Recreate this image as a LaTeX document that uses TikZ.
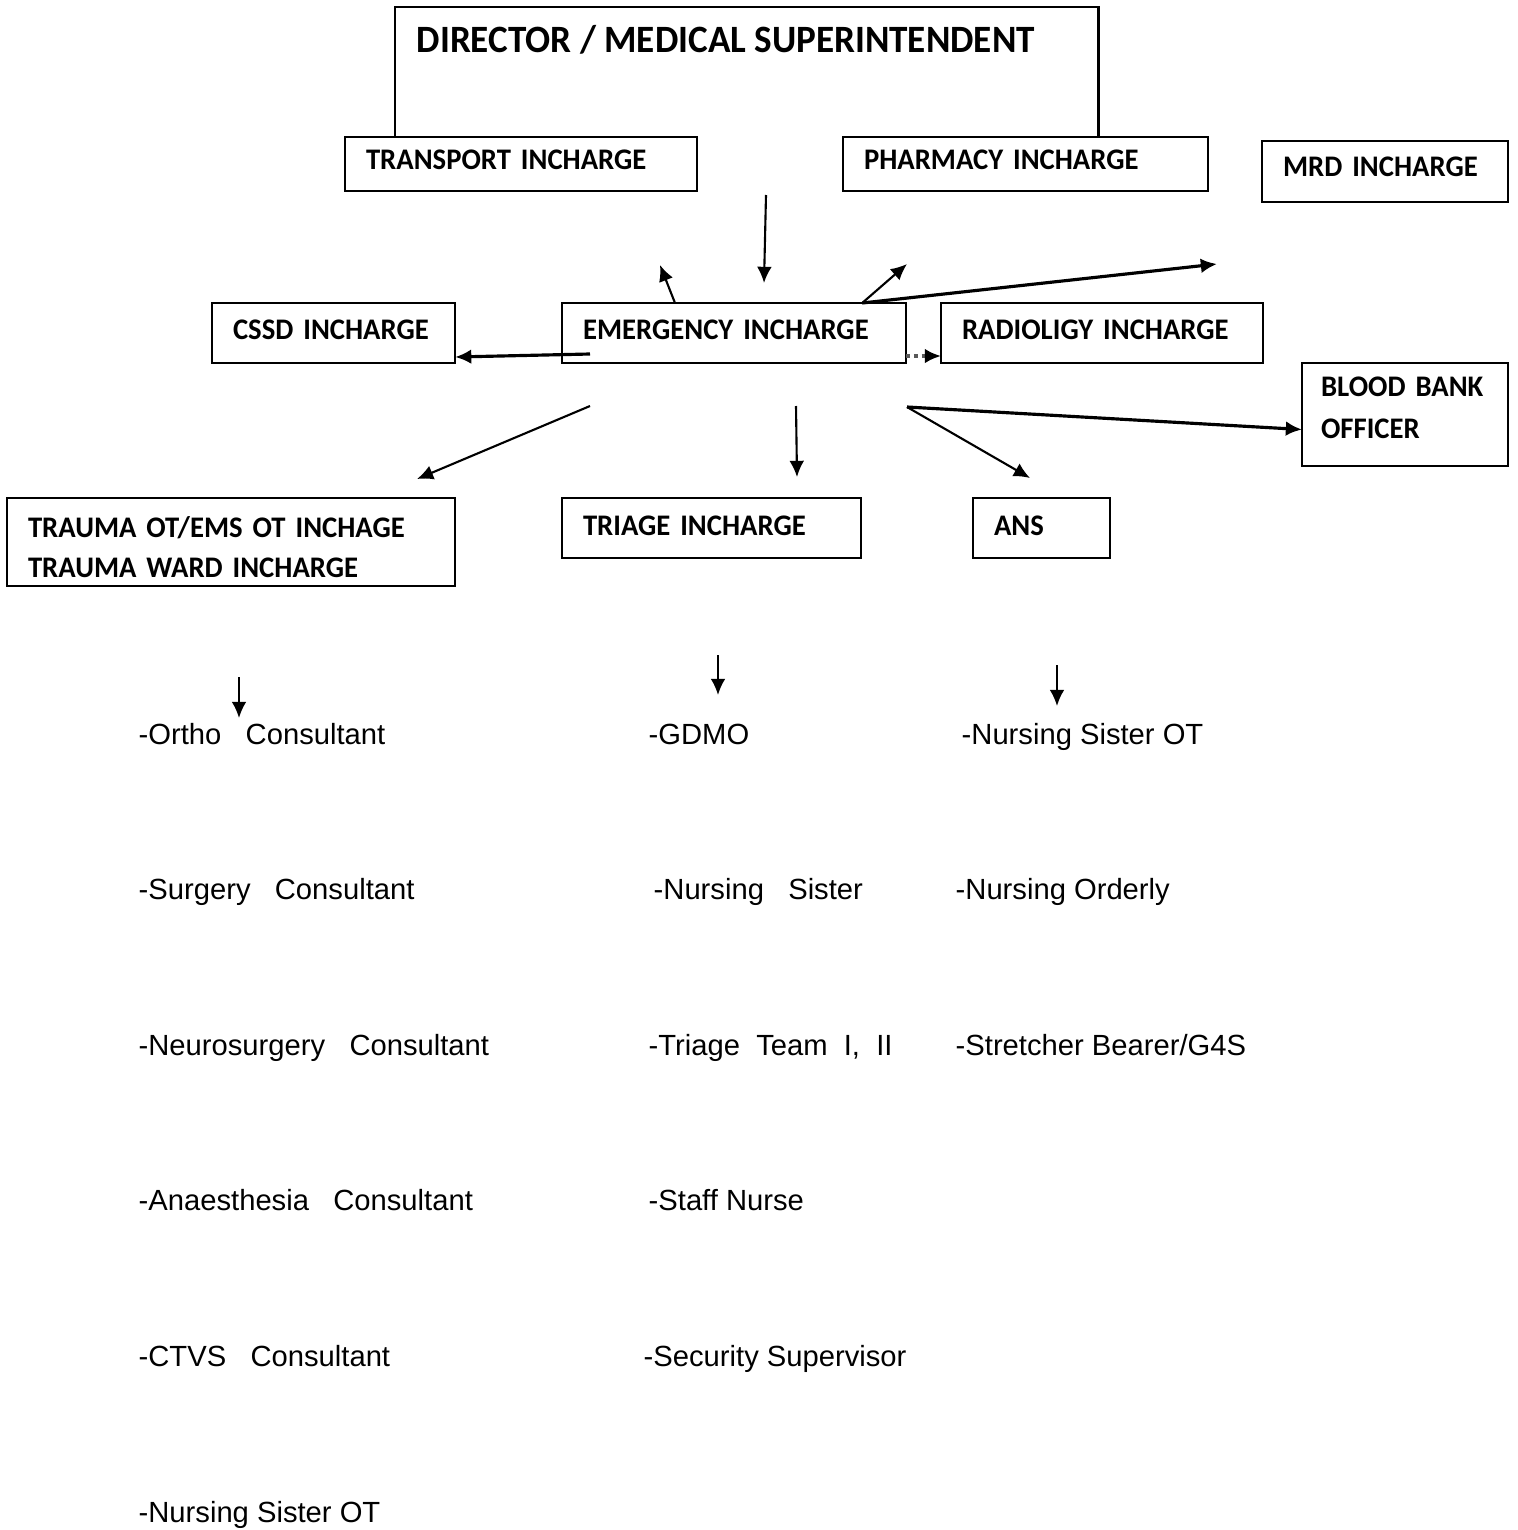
\documentclass[tikz,border=0pt]{standalone}
\usepackage{fontspec}
\setmainfont{Liberation Sans}
\newfontfamily\boxfont[FakeStretch=0.96]{Carlito}
\usetikzlibrary{arrows.meta,calc}

\begin{document}
\begin{tikzpicture}[x=0.01cm, y=-0.01cm, >={Latex[length=4.6pt,width=4.2pt]}]
	\tikzstyle{box} = [draw, rectangle, line width=0.7pt, anchor=north west, inner xsep=2.1mm, inner ysep=0pt, outer sep=0pt, align=left, font={\boxfont\bfseries\fontsize{8.5}{11.6}\selectfont\hyphenpenalty=10000}];
	\tikzstyle{single} = [text height=2mm, text depth=1mm];
	\tikzstyle{staff} = [anchor=base west, inner sep=0pt, font={\fontsize{8.3}{10}\selectfont}];
	\tikzstyle{point} = [->, line width=0.6pt];
	\tikzstyle{heavy} = [->, line width=0.9pt];

	\useasboundingbox (0,0) rectangle (1517,1530);

	% top of the chart
	\node[box, draw=none, minimum width=7.03cm, minimum height=1.30cm] (dir) at (395,7) {};
	\draw[line width=0.7pt] (dir.south west) |- (dir.north east) -- (dir.south east);
	\node[anchor=base west, inner sep=0pt, font={\boxfont\bfseries\fontsize{11}{13}\selectfont}] (dirtext) at (416,52) {DIRECTOR / MEDICAL SUPERINTENDENT};

	\node[box, single, text width=3.10cm, minimum height=0.54cm] (transport) at (345,137) {TRANSPORT INCHARGE};
	\node[box, single, text width=3.23cm, minimum height=0.54cm] (pharmacy) at (843,137) {PHARMACY INCHARGE};
	\node[box, single, text width=2.04cm, minimum height=0.61cm] (mrd) at (1262,141) {MRD INCHARGE};

	\node[box, single, text width=2.01cm, minimum height=0.60cm, text depth=0.7mm] (cssd) at (212,303) {CSSD INCHARGE};
	\node[box, single, text width=3.02cm, minimum height=0.60cm, text depth=0.7mm] (emerg) at (562,303) {EMERGENCY INCHARGE};
	\node[box, single, text width=2.80cm, minimum height=0.60cm, text depth=0.7mm] (radio) at (941,303) {RADIOLIGY INCHARGE};
	\node[box, inner xsep=1.9mm, text width=1.68cm, minimum height=1.03cm, text depth=5.55mm, font={\boxfont\bfseries\fontsize{8.5}{11.8}\selectfont}] (bank) at (1302,363) {BLOOD BANK\\OFFICER};

	\node[box, text width=4.06cm, minimum height=0.88cm, text depth=3.1mm] (trauma) at (7,498) {TRAUMA OT/EMS OT INCHAGE\\TRAUMA WARD INCHARGE};
	\node[box, single, text width=2.57cm, minimum height=0.60cm, text depth=0.6mm] (triage) at (562,498) {TRIAGE INCHARGE};
	\node[box, single, text width=0.95cm, minimum height=0.60cm, text depth=0.6mm] (ans) at (973,498) {ANS};

	% arrows round the emergency box
	\coordinate (dirfoot) at (766,195);
	\coordinate (emtop) at (764,283);
	\draw[point] (dirfoot) -- (emtop);

	\coordinate (upleft) at (660,265);
	\coordinate (upright) at (907,264);
	\coordinate (upfar) at (1217,264);
	\draw[point] ($(emerg.north west)+(113,0)$) -- (upleft);
	\draw[point] ($(emerg.north east)+(-44,0)$) -- (upright);
	\draw[heavy] ($(emerg.north east)+(-44,0)$) -- (upfar);

	\coordinate (emin) at (590,354);
	\draw[heavy] (emin) -- ($(cssd.east)+(0,24)$);
	\draw[->, line width=1.2pt, densely dotted, black!65, >={Latex[length=4.6pt,width=4.2pt,color=black]}] ($(emerg.east)+(0,23)$) -- ($(radio.west)+(0,23)$);

	\coordinate (lowleft) at (590,406);
	\coordinate (lowmid) at (796,406);
	\coordinate (lowright) at (907,407);
	\coordinate (traumatip) at (417,479);
	\coordinate (triagetip) at (797,477);
	\coordinate (anstip) at (1030,478);
	\draw[point] (lowleft) -- (traumatip);
	\draw[point] (lowmid) -- (triagetip);
	\draw[point] (lowright) -- (anstip);
	\draw[heavy] (lowright) -- ($(bank.west)+(0,15)$);

	% staff under each incharge
	\foreach \col/\x/\ya/\yb in {tr/239/677/718, ti/718/655/695, an/1057/665/706} {
		\coordinate (\col top) at (\x,\ya);
		\coordinate (\col end) at (\x,\yb);
		\draw[point] (\col top) -- (\col end);
	}

	\foreach \txt [count=\i] in {{-Ortho\ \ \ Consultant}, {-Surgery\ \ \ Consultant}, {-Neurosurgery\ \ \ Consultant}, {-Anaesthesia\ \ \ Consultant}, {-CTVS\ \ \ Consultant}, {-Nursing Sister OT}} {
		\node[staff] (left\i) at (138,{744+155.6*(\i-1)}) {\txt};
	}

	\foreach \x/\y/\txt [count=\i] in {648/744/{-GDMO}, 653/899/{-Nursing\ \ \ Sister}, 648/1055/{-Triage\ \ Team\ \ I,\ \ II}, 648/1210/{-Staff Nurse}, 643/1366/{-Security Supervisor}} {
		\node[staff] (mid\i) at (\x,\y) {\txt};
	}

	\foreach \x/\y/\txt [count=\i] in {961/744/{-Nursing Sister OT}, 955/899/{-Nursing Orderly}, 955/1055/{-Stretcher Bearer/G4S}} {
		\node[staff] (right\i) at (\x,\y) {\txt};
	}
\end{tikzpicture}
\end{document}
